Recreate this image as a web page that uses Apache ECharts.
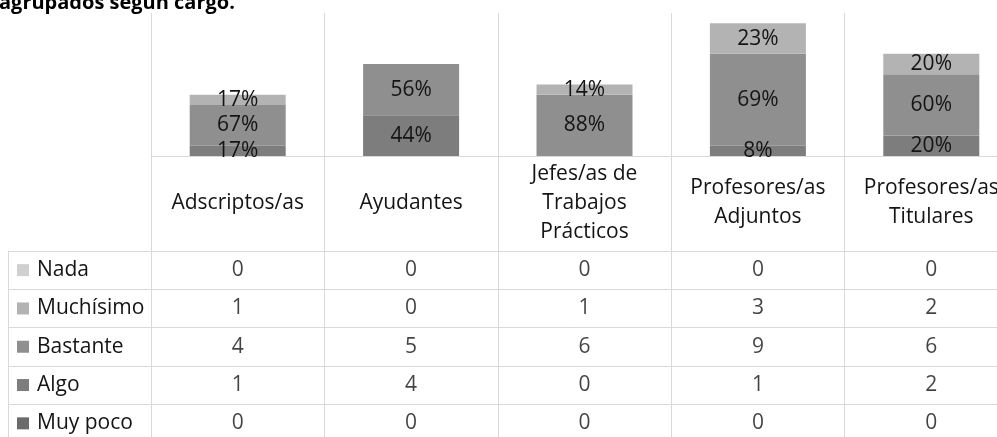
<!DOCTYPE html>
<html>
<head>
<meta charset="utf-8">
<script src="https://cdn.jsdelivr.net/npm/echarts@6/dist/echarts.min.js"></script>
<style>
html,body{margin:0;padding:0;background:#fff;}
#c{width:997px;height:437px;}
</style>
</head>
<body>
<div id="c"></div>
<script>
// ---- data ----
const categories = ['Adscriptos/as', 'Ayudantes', 'Jefes/as de\nTrabajos\nPrácticos', 'Profesores/as\nAdjuntos', 'Profesores/as\nTitulares'];
const seriesNames = ['Nada', 'Muchísimo', 'Bastante', 'Algo', 'Muy poco'];
const nada      = [0, 0, 0, 0, 0];
const muchisimo = [1, 0, 1, 3, 2];
const bastante  = [4, 5, 6, 9, 6];
const algo      = [1, 4, 0, 1, 2];
const muyPoco   = [0, 0, 0, 0, 0];
// percentage labels as printed on the bars
const pctNada      = [null, null, null, null, null];
const pctMuchisimo = [17, null, 14, 23, 20];
const pctBastante  = [67, 56, 88, 69, 60];
const pctAlgo      = [17, 44, null, 8, 20];
const pctMuyPoco   = [null, null, null, null, null];
const titleText = 'agrupados según cargo.';

// ---- styles ----
const colors = {
  'Nada': '#d0d0d0',
  'Muchísimo': '#b3b3b3',
  'Bastante': '#8f8f8f',
  'Algo': '#7d7d7d',
  'Muy poco': '#6b6b6b'
};
const FONT = 'Open Sans';
const TXT = '#141414';
const LINE = '#d9d9d9';
const FS = 21;

const valuesByName = {
  'Nada': nada, 'Muchísimo': muchisimo, 'Bastante': bastante, 'Algo': algo, 'Muy poco': muyPoco
};
const pctByName = {
  'Nada': pctNada, 'Muchísimo': pctMuchisimo, 'Bastante': pctBastante, 'Algo': pctAlgo, 'Muy poco': pctMuyPoco
};

// bars stacked bottom -> top
const stackOrder = ['Muy poco', 'Algo', 'Bastante', 'Muchísimo', 'Nada'];
const barSeries = stackOrder.map(name => ({
  name: name,
  type: 'bar',
  stack: 'total',
  xAxisIndex: 0,
  yAxisIndex: 0,
  barWidth: 96,
  itemStyle: { color: colors[name] },
  label: {
    show: true,
    position: 'inside',
    color: TXT,
    fontFamily: FONT,
    fontSize: FS,
    formatter: p => {
      const v = pctByName[name][p.dataIndex];
      return v == null ? '' : v + '%';
    }
  },
  data: valuesByName[name]
}));

// table cell values
const cellData = [];
seriesNames.forEach(name => {
  valuesByName[name].forEach((v, i) => cellData.push([i, name, v]));
});

const rich = { };
seriesNames.forEach((n, i) => {
  rich['m' + i] = { width: 12, height: 12, backgroundColor: colors[n] };
});
rich.t = { fontFamily: FONT, fontSize: FS, color: TXT, padding: [0, 0, 0, 8] };

const chart = echarts.init(document.getElementById('c'), null, { renderer: 'canvas' });
chart.setOption({
  animation: false,
  title: {
    text: titleText,
    left: -1,
    top: -7,
    padding: 0,
    textStyle: { fontFamily: FONT, fontSize: 20, fontWeight: 'bold', color: '#000', lineHeight: 20 }
  },
  grid: [
    { left: 151, top: 13, width: 867, height: 143, containLabel: false, outerBoundsMode: 'none' },
    { left: 151, top: 251, width: 867, height: 191.5, containLabel: false, outerBoundsMode: 'none' }
  ],
  xAxis: [
    {
      type: 'category', gridIndex: 0, data: categories,
      axisLine: { show: true, lineStyle: { color: LINE, width: 1 } },
      axisTick: { show: true, length: 95, lineStyle: { color: LINE, width: 1 } },
      splitLine: { show: true, lineStyle: { color: LINE, width: 1 } },
      axisLabel: {
        show: true, margin: 47, verticalAlign: 'middle', align: 'center',
        fontFamily: FONT, fontSize: FS, lineHeight: 29, color: TXT, interval: 0
      }
    },
    {
      type: 'category', gridIndex: 1, data: categories,
      axisLine: { show: false }, axisTick: { show: false }, axisLabel: { show: false },
      splitLine: { show: true, lineStyle: { color: LINE, width: 1 } }
    }
  ],
  yAxis: [
    {
      type: 'value', gridIndex: 0, min: 0, max: 14,
      axisLine: { show: false }, axisTick: { show: false }, axisLabel: { show: false },
      splitLine: { show: false }
    },
    {
      type: 'category', gridIndex: 1, data: seriesNames, inverse: true,
      axisLine: { show: true, lineStyle: { color: LINE, width: 1 } },
      axisTick: { show: true, length: 143, lineStyle: { color: LINE, width: 1 } },
      splitLine: { show: true, lineStyle: { color: LINE, width: 1 } },
      axisLabel: {
        show: true, margin: 134, align: 'left',
        formatter: (v, i) => '{m' + i + '|}{t|' + v + '}',
        rich: rich
      }
    },
    {
      type: 'category', gridIndex: 1, data: seriesNames, inverse: true,
      position: 'left', offset: 143,
      axisLine: { show: true, lineStyle: { color: LINE, width: 1 } },
      axisTick: { show: false }, axisLabel: { show: false }, splitLine: { show: false }
    }
  ],
  series: barSeries.concat([{
    type: 'scatter',
    xAxisIndex: 1,
    yAxisIndex: 1,
    symbolSize: 1,
    itemStyle: { color: 'rgba(0,0,0,0)' },
    label: {
      show: true, position: 'inside', color: TXT, fontFamily: FONT, fontSize: FS,
      formatter: p => String(p.value[2])
    },
    data: cellData
  }])
});
</script>
</body>
</html>
